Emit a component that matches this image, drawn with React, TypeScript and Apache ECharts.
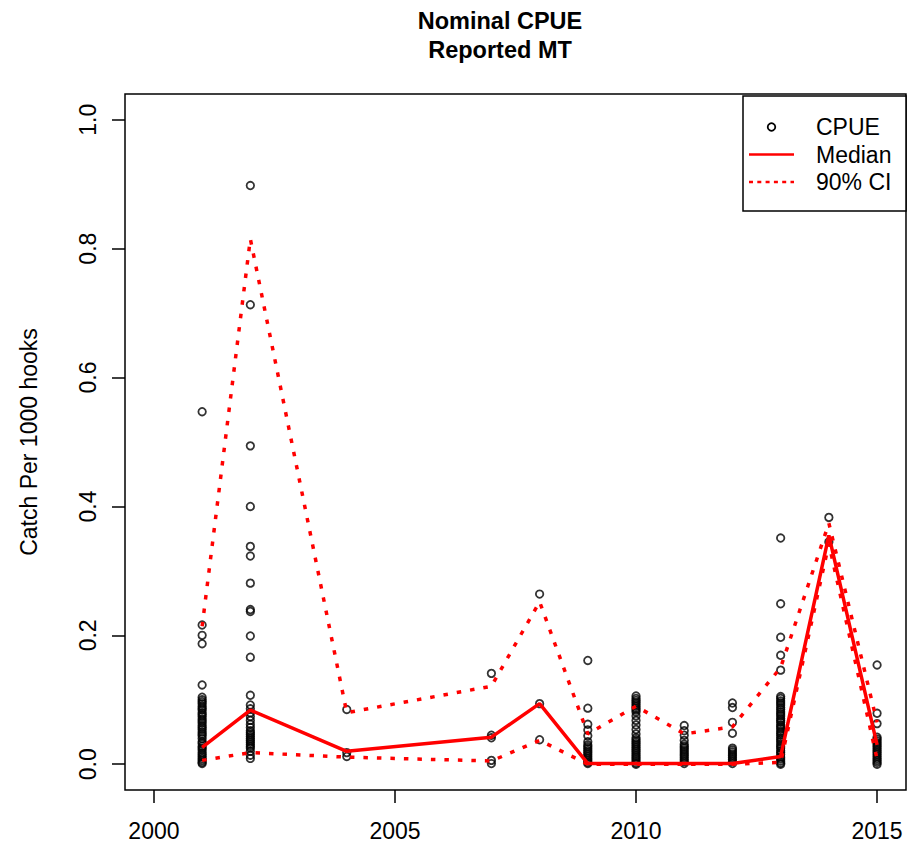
import React, { useEffect, useRef } from "react";
import * as echarts from "echarts";

// ---------- data ----------
const years = [2001, 2002, 2004, 2007, 2008, 2009, 2010, 2011, 2012, 2013, 2014, 2015];

const cpue2001 = [0.547, 0.216, 0.2, 0.187, 0.123, 0.104, 0.1, 0.097, 0.094, 0.09, 0.087, 0.084, 0.08, 0.077, 0.074, 0.07, 0.067, 0.064, 0.06, 0.057, 0.054, 0.05, 0.047, 0.044, 0.04, 0.035, 0.032, 0.028, 0.025, 0.022, 0.018, 0.015, 0.012, 0.009, 0.006, 0.003, 0.001];
const cpue2002 = [0.898, 0.713, 0.494, 0.4, 0.338, 0.323, 0.281, 0.24, 0.237, 0.199, 0.166, 0.107, 0.092, 0.086, 0.08, 0.074, 0.068, 0.062, 0.057, 0.052, 0.049, 0.046, 0.043, 0.04, 0.037, 0.034, 0.031, 0.028, 0.025, 0.02, 0.014, 0.009];
const cpue2004 = [0.085, 0.018, 0.012];
const cpue2007 = [0.141, 0.045, 0.041, 0.006, 0.001];
const cpue2008 = [0.264, 0.094, 0.038];
const cpue2009 = [0.161, 0.087, 0.062, 0.053, 0.044, 0.035, 0.03, 0.027, 0.024, 0.021, 0.018, 0.015, 0.012, 0.009, 0.006, 0.003, 0.001];
const cpue2010 = [0.106, 0.102, 0.099, 0.096, 0.093, 0.09, 0.087, 0.084, 0.081, 0.075, 0.068, 0.061, 0.054, 0.047, 0.041, 0.038, 0.035, 0.032, 0.029, 0.026, 0.023, 0.02, 0.017, 0.014, 0.011, 0.008, 0.005, 0.002, 0.0];
const cpue2011 = [0.06, 0.052, 0.045, 0.037, 0.031, 0.028, 0.025, 0.022, 0.019, 0.016, 0.013, 0.01, 0.007, 0.004, 0.001];
const cpue2012 = [0.095, 0.088, 0.065, 0.048, 0.025, 0.022, 0.019, 0.016, 0.013, 0.01, 0.007, 0.004, 0.001];
const cpue2013 = [0.351, 0.249, 0.197, 0.169, 0.146, 0.105, 0.102, 0.098, 0.095, 0.092, 0.088, 0.085, 0.081, 0.078, 0.075, 0.071, 0.068, 0.065, 0.061, 0.058, 0.055, 0.051, 0.048, 0.045, 0.041, 0.038, 0.035, 0.031, 0.028, 0.025, 0.021, 0.018, 0.015, 0.011, 0.008, 0.005, 0.002, 0.0];
const cpue2014 = [0.383, 0.345];
const cpue2015 = [0.154, 0.079, 0.063, 0.042, 0.039, 0.036, 0.033, 0.03, 0.027, 0.024, 0.021, 0.018, 0.015, 0.012, 0.009, 0.006, 0.003, 0.0];

const cpueByYear = [cpue2001, cpue2002, cpue2004, cpue2007, cpue2008, cpue2009, cpue2010, cpue2011, cpue2012, cpue2013, cpue2014, cpue2015];

const median = [0.026, 0.084, 0.02, 0.042, 0.094, 0.001, 0.001, 0.001, 0.001, 0.012, 0.355, 0.03];
const ciUpper = [0.214, 0.815, 0.08, 0.121, 0.252, 0.047, 0.09, 0.047, 0.058, 0.15, 0.374, 0.065];
const ciLower = [0.006, 0.018, 0.011, 0.005, 0.037, 0.0, 0.0, 0.0, 0.0, 0.003, 0.342, 0.008];

const xTicks = [2000, 2005, 2010, 2015];
const yTicks = [0, 0.2, 0.4, 0.6, 0.8, 1.0];

const titleLines = ["Nominal CPUE", "Reported MT"];
const yAxisTitle = "Catch Per 1000 hooks";
const legendLabels = ["CPUE", "Median", "90% CI"];

const FONT = "'Liberation Sans', Arial, Helvetica, sans-serif";

export default function App() {
  const ref = useRef<HTMLDivElement>(null);

  useEffect(() => {
    if (!ref.current) return;
    const chart = echarts.init(ref.current, undefined, { renderer: "svg" });

    const scatterData: [number, number][] = [];
    years.forEach((y, i) => {
      cpueByYear[i].forEach((v) => scatterData.push([y, v]));
    });
    const pair = (arr: number[]) => years.map((y, i) => [y, arr[i]]);

    const red = "#ff0000";
    const legX = 743;
    const legY = 96;
    const rows = [127, 154.5, 182];

    const option: any = {
      animation: false,
      backgroundColor: "#ffffff",
      textStyle: { fontFamily: FONT },
      grid: {
        left: 125,
        right: 3,
        top: 94,
        bottom: 60,
        show: true,
        borderColor: "#000",
        borderWidth: 1.5,
        backgroundColor: "transparent",
      },
      xAxis: {
        type: "value",
        min: 1999.4,
        max: 2015.6,
        axisLine: { show: false, onZero: false },
        splitLine: { show: false },
        axisTick: {
          show: true,
          length: 13,
          customValues: xTicks,
          lineStyle: { color: "#000", width: 1.5 },
        },
        axisLabel: {
          customValues: xTicks,
          fontSize: 23,
          color: "#000",
          fontFamily: FONT,
          margin: 29,
          formatter: (v: number) => String(v),
        },
      },
      yAxis: {
        type: "value",
        min: -0.04,
        max: 1.04,
        axisLine: { show: false, onZero: false },
        splitLine: { show: false },
        axisTick: {
          show: true,
          length: 13,
          customValues: yTicks,
          lineStyle: { color: "#000", width: 1.5 },
        },
        axisLabel: {
          customValues: yTicks,
          rotate: 90,
          fontSize: 23,
          color: "#000",
          fontFamily: FONT,
          margin: 26,
          formatter: (v: number) => v.toFixed(1),
        },
        name: yAxisTitle,
        nameLocation: "middle",
        nameRotate: 90,
        nameGap: 85,
        nameTextStyle: { fontSize: 23, color: "#000", fontFamily: FONT },
      },
      series: [
        {
          name: "CPUE",
          type: "scatter",
          data: scatterData,
          symbol: "circle",
          symbolSize: 7.5,
          itemStyle: { color: "rgba(0,0,0,0)", borderColor: "#000", borderWidth: 1.8 },
          z: 2,
        },
        {
          name: "90% CI",
          type: "line",
          data: pair(ciUpper),
          showSymbol: false,
          symbol: "none",
          lineStyle: { color: red, width: 3.5, type: [4.5, 9], cap: "butt" },
          z: 3,
        },
        {
          name: "90% CI lower",
          type: "line",
          data: pair(ciLower),
          showSymbol: false,
          symbol: "none",
          lineStyle: { color: red, width: 3.5, type: [4.5, 9], cap: "butt" },
          z: 3,
        },
        {
          name: "Median",
          type: "line",
          data: pair(median),
          showSymbol: false,
          symbol: "none",
          lineStyle: { color: red, width: 3.5, type: "solid" },
          z: 4,
        },
      ],
      graphic: [
        {
          type: "text",
          x: 500,
          y: 21,
          style: {
            text: titleLines[0],
            font: `bold 23.5px ${FONT}`,
            fill: "#000",
            textAlign: "center",
            textVerticalAlign: "middle",
            align: "center",
            verticalAlign: "middle",
          },
        },
        {
          type: "text",
          x: 500,
          y: 50,
          style: {
            text: titleLines[1],
            font: `bold 23.5px ${FONT}`,
            fill: "#000",
            textAlign: "center",
            textVerticalAlign: "middle",
            align: "center",
            verticalAlign: "middle",
          },
        },
        {
          type: "rect",
          shape: { x: legX, y: legY, width: 163, height: 115 },
          style: { fill: "#fff", stroke: "#000", lineWidth: 1.5 },
          z: 10,
        },
        {
          type: "circle",
          shape: { cx: 771.5, cy: rows[0], r: 3.8 },
          style: { fill: "none", stroke: "#000", lineWidth: 1.8 },
          z: 11,
        },
        {
          type: "line",
          shape: { x1: 749, y1: rows[1], x2: 794, y2: rows[1] },
          style: { stroke: red, lineWidth: 2.5 },
          z: 11,
        },
        {
          type: "line",
          shape: { x1: 749, y1: rows[2], x2: 794, y2: rows[2] },
          style: { stroke: red, lineWidth: 2.5, lineDash: [4, 4.3] },
          z: 11,
        },
        ...legendLabels.map((t, i) => ({
          type: "text",
          x: 816,
          y: rows[i],
          z: 11,
          style: {
            text: t,
            font: `23px ${FONT}`,
            fill: "#000",
            textAlign: "left",
            textVerticalAlign: "middle",
            align: "left",
            verticalAlign: "middle",
          },
        })),
      ],
    };

    chart.setOption(option);
    return () => {
      chart.dispose();
    };
  }, []);

  return (
    <div
      ref={ref}
      style={{ position: "fixed", left: 0, top: 0, width: 909, height: 850, background: "#fff" }}
    />
  );
}
